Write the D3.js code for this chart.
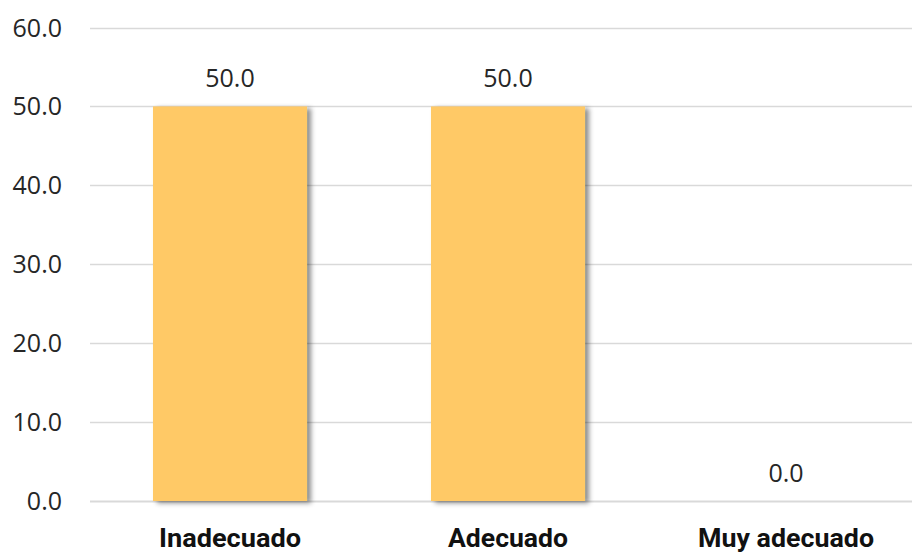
<!doctype html>
<meta charset="utf-8">
<title>Bar chart</title>
<style>
  body { margin: 0; background: #fff; }
  svg { display: block; }
</style>
<svg id="visual" width="912" height="556"></svg>
<script src="https://cdn.jsdelivr.net/npm/d3@7"></script>
<script>

// (data)
var categories = ["Inadecuado", "Adecuado", "Muy adecuado"];
var values = [50.0, 50.0, 0.0];
var ticks = [0, 10, 20, 30, 40, 50, 60];

var svg = d3.select("#visual");

// (scales) - the plot runs a little past the right edge of the picture
var x = d3.scaleBand()
  .domain(categories)
  .range([91, 925])
  .paddingInner(0.446)
  .paddingOuter(0.223);

var y = d3.scaleLinear()
  .domain([0, 60])
  .range([501, 27.5]);

// (shadow)
var defs = svg.append("defs");
var f = defs.append("filter").attr("id", "shadow")
  .attr("x", "-10%").attr("y", "-10%").attr("width", "130%").attr("height", "120%");
f.append("feDropShadow")
  .attr("dx", 4).attr("dy", 2)
  .attr("stdDeviation", 2.5)
  .attr("flood-color", "#000")
  .attr("flood-opacity", 0.45);

// (grid)
svg.append("g")
  .selectAll("line")
  .data(ticks)
  .enter()
  .append("line")
  .attr("x1", 90)
  .attr("x2", 912)
  .attr("y1", function(d) { return Math.round(y(d)) + 0.5; })
  .attr("y2", function(d) { return Math.round(y(d)) + 0.5; })
  .attr("stroke", "#d9d9d9")
  .attr("stroke-width", function(d) { return d === 0 ? 2 : 1.5; });

// (y labels)
svg.append("g")
  .selectAll("text")
  .data(ticks)
  .enter()
  .append("text")
  .attr("x", 62)
  .attr("y", function(d) { return y(d) + 9; })
  .attr("text-anchor", "end")
  .attr("font-family", "Open Sans, sans-serif")
  .attr("font-size", "25px")
  .attr("fill", "#262626")
  .text(function(d) { return d.toFixed(1); });

// (bars)
svg.append("g")
  .selectAll("rect")
  .data(values)
  .enter()
  .append("rect")
  .attr("x", function(d, i) { return x(categories[i]); })
  .attr("y", function(d) { return y(d); })
  .attr("width", x.bandwidth())
  .attr("height", function(d) { return y(0) - y(d); })
  .attr("fill", "#ffc966")
  .attr("filter", "url(#shadow)");

// (value labels)
svg.append("g")
  .selectAll("text")
  .data(values)
  .enter()
  .append("text")
  .attr("x", function(d, i) { return x(categories[i]) + x.bandwidth() / 2; })
  .attr("y", function(d) { return y(d) - 19; })
  .attr("text-anchor", "middle")
  .attr("font-family", "Open Sans, sans-serif")
  .attr("font-size", "25px")
  .attr("fill", "#262626")
  .text(function(d) { return d.toFixed(1); });

// (category labels)
var catWidths = [142, 120, 176];
svg.append("g")
  .selectAll("text")
  .data(categories)
  .enter()
  .append("text")
  .attr("x", function(d) { return x(d) + x.bandwidth() / 2; })
  .attr("y", 547)
  .attr("text-anchor", "middle")
  .attr("font-family", "Liberation Sans Narrow, Roboto, sans-serif")
  .attr("font-weight", "bold")
  .attr("font-size", "25px")
  .attr("textLength", function(d, i) { return catWidths[i]; })
  .attr("lengthAdjust", "spacingAndGlyphs")
  .attr("fill", "#111")
  .text(function(d) { return d; });

</script>
